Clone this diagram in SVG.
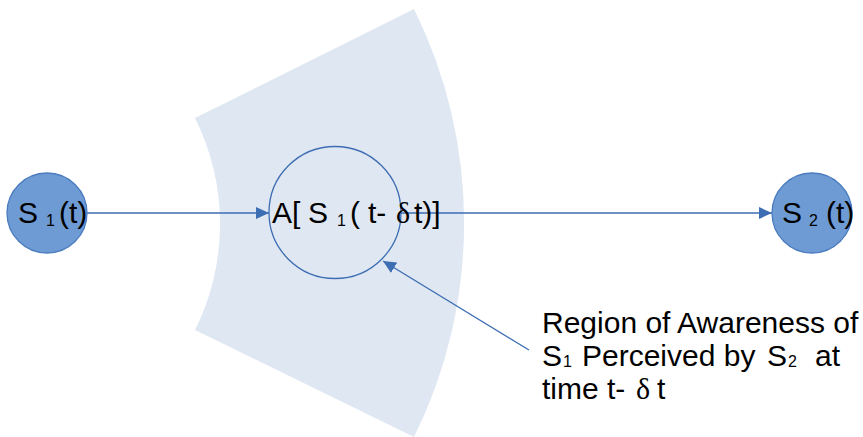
<svg xmlns="http://www.w3.org/2000/svg" width="863" height="437" viewBox="0 0 863 437">
<defs>
<style>
.t{font-family:"Liberation Sans",Arial,sans-serif;font-size:30px;fill:#000}
.sub{font-size:16px}
.g{font-family:"Liberation Serif","Times New Roman",serif}
.node{fill:#6e9bd3;stroke:#4a7cbf;stroke-width:1.3}
.conn{stroke:#3d6db3;stroke-width:1.3;fill:none}
</style>
<marker id="ah" markerUnits="userSpaceOnUse" markerWidth="14" markerHeight="12" refX="13" refY="6" orient="auto">
<path d="M0,0 L13,6 L0,12 z" fill="#3d6db3"/>
</marker>
</defs>
<rect width="863" height="437" fill="#fff"/>
<g id="region">
<path d="M195,118 L414,9 A482,482 0 0 1 414,437 L195,330 A237,237 0 0 0 195,118 z" fill="#dfe7f2"/>
</g>
<g id="connectors">
<line class="conn" x1="87" y1="213" x2="269" y2="213" marker-end="url(#ah)"/>
<line class="conn" x1="401" y1="213" x2="772" y2="213" marker-end="url(#ah)"/>
<line class="conn" x1="529" y1="350" x2="383" y2="261" marker-end="url(#ah)"/>
</g>
<g id="s1">
<circle class="node" cx="47" cy="213" r="40"/>
<text class="t" y="223"><tspan x="18">S</tspan><tspan x="46" class="sub" dy="3">1</tspan><tspan x="59" dy="-3">(t)</tspan></text>
</g>
<g id="a">
<circle cx="335" cy="212.5" r="66" fill="none" stroke="#3d6db3" stroke-width="1.3"/>
<text class="t" y="223"><tspan x="272">A[</tspan><tspan x="308">S</tspan><tspan x="337" class="sub" dy="3">1</tspan><tspan x="350" dy="-3">(</tspan><tspan x="368">t-</tspan><tspan x="396" class="g">δ</tspan><tspan x="414">t)]</tspan></text>
</g>
<g id="s2">
<circle class="node" cx="812" cy="213" r="40"/>
<text class="t" y="223"><tspan x="782">S</tspan><tspan x="809" class="sub" dy="3">2</tspan><tspan x="826" dy="-3">(t)</tspan></text>
</g>
<g id="label">
<text class="t" x="542" y="333">Region of Awareness of</text>
<text class="t" y="366"><tspan x="542">S</tspan><tspan x="563" class="sub" dy="1">1</tspan><tspan x="582" dy="-1">Perceived by</tspan><tspan x="767">S</tspan><tspan x="788" class="sub" dy="1">2</tspan><tspan x="815" dy="-1">at</tspan></text>
<text class="t" y="399"><tspan x="542">time t-</tspan><tspan x="636" class="g">δ</tspan><tspan x="657">t</tspan></text>
</g>
</svg>
